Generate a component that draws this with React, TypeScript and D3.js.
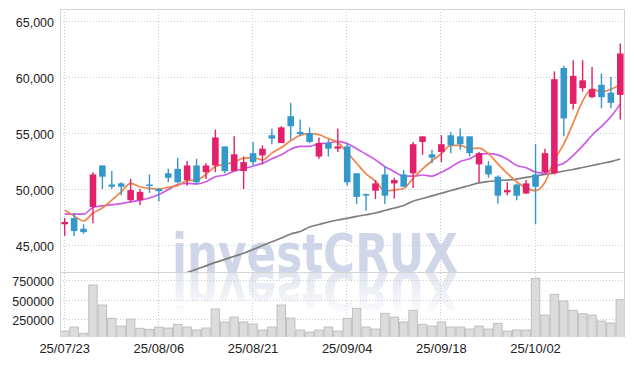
import React from "react";
import * as d3 from "d3";

const dates = [
  "25/07/23","25/07/24","25/07/25","25/07/28","25/07/29","25/07/30","25/07/31","25/08/01","25/08/04","25/08/05",
  "25/08/06","25/08/07","25/08/08","25/08/11","25/08/12","25/08/13","25/08/14","25/08/18","25/08/19","25/08/20",
  "25/08/21","25/08/22","25/08/25","25/08/26","25/08/27","25/08/28","25/08/29","25/09/01","25/09/02","25/09/03",
  "25/09/04","25/09/05","25/09/08","25/09/09","25/09/10","25/09/11","25/09/12","25/09/15","25/09/16","25/09/17",
  "25/09/18","25/09/19","25/09/22","25/09/23","25/09/24","25/09/25","25/09/26","25/09/29","25/09/30","25/10/01",
  "25/10/02","25/10/10","25/10/13","25/10/14","25/10/15","25/10/16","25/10/17","25/10/20","25/10/21","25/10/22",
];

const opens = [
  46850,47400,46450,48400,52100,50400,50500,49000,49000,50400,
  50000,51400,51800,50800,52100,51500,52100,53800,51600,51600,
  53200,53000,54800,54100,56500,55100,55000,52900,54100,53600,
  53800,51400,49550,49850,51300,50500,51300,51400,54200,53100,
  53300,54800,54700,54700,52200,52100,51100,49700,50400,49600,
  51300,51500,51400,60800,57600,59000,58200,59300,58600,58400,
];
const highs = [
  47400,47850,46850,51500,52100,51600,50600,50900,50000,51300,
  50100,51800,52800,52500,52700,52300,55300,53800,54700,52900,
  54200,53900,55400,55600,57700,56200,55500,54600,54400,55400,
  54100,51400,49600,50800,52000,51000,51700,54200,54700,53500,
  54800,55100,55400,54700,53300,52500,51200,50600,50500,50800,
  54000,53600,60500,61000,61500,61500,60900,60300,60000,63000,
];
const lows = [
  45800,45800,46000,46950,50000,50000,49450,48850,48550,49650,
  48900,50600,50500,50300,50400,50900,51500,51400,51600,50000,
  52100,52200,54000,54100,54400,54700,54100,52700,52900,53300,
  50300,48650,48050,49100,48650,49150,50200,50100,53050,52300,
  52400,53200,53500,52900,50600,51000,48700,49450,49000,49550,
  46850,51400,51300,54700,57100,58700,58100,57200,57200,56200,
];
const closes = [
  47050,46250,46150,51300,51100,50200,50200,49900,49750,50300,
  49800,51000,50600,52100,50600,52100,54600,51600,53100,52400,
  52400,53600,54500,55500,55600,54900,54200,54100,53600,53800,
  50600,49300,49450,50500,49400,50800,50200,54000,54700,52800,
  54000,53900,54000,53200,53200,51300,49400,49900,49400,50500,
  50200,53200,59800,56300,60100,59700,58900,58200,57700,62100,
];

const ma5 = [
  48100,47600,47150,47850,48300,49000,49750,50500,50200,50050,
  50000,50150,50300,50750,50800,51300,52000,52200,52400,52750,
  52800,52600,53200,53700,54300,54800,54950,54850,54500,54150,
  53250,52300,51350,50700,49850,49900,50050,50950,51800,52500,
  53150,53900,53900,53600,53650,53150,52250,51400,50650,50100,
  49850,50600,52600,54000,55900,57850,58950,58650,58900,59300,
];
const ma10 = [
  47750,47750,47750,48350,48500,48600,48700,48850,49000,49200,
  49500,49950,50400,50500,50450,50650,51100,51250,51600,51800,
  52050,52300,52700,53050,53550,53800,53800,54050,54100,54250,
  54050,53600,53100,52600,52000,51550,51150,51150,51250,51150,
  51500,51950,52450,52700,53100,53150,53050,52650,52100,51900,
  51500,51400,52000,52300,53000,53850,54800,55600,56450,57600,
];
const maLong: (number | null)[] = [
  null,null,null,null,null,null,null,null,null,null,
  null,null,42230,42550,42830,43140,43450,43720,43990,44260,
  44600,44950,45290,45620,45980,46200,46610,46830,47050,47230,
  47380,47550,47700,47860,48080,48300,48530,48910,49150,49380,
  49620,49870,50090,50310,50540,50670,50760,50800,50880,51030,
  51160,51300,51430,51610,51740,51920,52100,52280,52450,52680,
];

const volumes = [
  94000,146000,65000,689000,430000,258000,159000,249000,129000,116000,
  146000,133000,181000,146000,107000,133000,379000,211000,275000,211000,
  185000,107000,146000,430000,262000,107000,81000,107000,146000,94000,
  258000,388000,146000,120000,323000,275000,211000,362000,181000,159000,
  211000,146000,146000,120000,159000,120000,194000,94000,107000,107000,
  775000,301000,569000,482000,362000,318000,301000,224000,198000,499000,
];

const priceTicks = [45000, 50000, 55000, 60000, 65000];
const volumeTicks = [250000, 500000, 750000];
const dateTickIdx = [0, 10, 20, 30, 40, 50];
const watermark = "investCRUX";

const W = 634, H = 366;
const L = 60, R = 625, PT = 9, PB = 272, VT = 272, VB = 337;

export default function App() {
  const idx = d3.range(dates.length);
  const x = d3.scaleBand<number>().domain(idx).range([L, R]).padding(0);
  const bw = x.bandwidth();
  const cx = (i: number) => (x(i) as number) + bw / 2;
  const y = d3.scaleLinear().domain([42589, 66071]).range([PB, PT]);
  const yv = d3.scaleLinear().domain([0, 857300]).range([338.35, VT]);

  const line = d3.line<number | null>()
    .defined((d) => d != null)
    .x((_, i) => cx(i))
    .y((d) => y(d as number))
    .curve(d3.curveMonotoneX);

  const up = "#e2206b";
  const down = "#3498cb";
  const grid = "#c9cbd9";
  const textColor = "#222";
  const font = "'Liberation Sans', Arial, sans-serif";
  const wmFont = "'DejaVu Sans', sans-serif";
  const body = bw * 0.7;

  return (
    <svg width={W} height={H} style={{ position: "absolute", left: 0, top: 0, background: "#fff" }}>
      <defs>
        <clipPath id="pclip"><rect x={L} y={PT} width={R - L} height={PB - PT} /></clipPath>
        <clipPath id="vclip"><rect x={L} y={VT} width={R - L} height={VB - VT} /></clipPath>
        <linearGradient id="fade" x1="0" y1="0" x2="0" y2="1">
          <stop offset="0" stopColor="#fff" stopOpacity="0.15" />
          <stop offset="1" stopColor="#fff" stopOpacity="0.95" />
        </linearGradient>
      </defs>
      <rect x={0} y={0} width={W} height={H} fill="#fff" />

      {/* watermark */}
      <g clipPath="url(#pclip)">
        <text x={172} y={272} fontFamily={wmFont} fontWeight="bold" fontSize={54}
          textLength={286} lengthAdjust="spacingAndGlyphs" fill="#d0d6e9">{watermark}</text>
      </g>
      <g clipPath="url(#vclip)">
        <g transform={`translate(0,${2 * 272}) scale(1,-1)`}>
          <text x={172} y={272} fontFamily={wmFont} fontWeight="bold" fontSize={54}
            textLength={286} lengthAdjust="spacingAndGlyphs" fill="#dde1ee">{watermark}</text>
        </g>
        <rect x={L} y={VT} width={R - L} height={45} fill="url(#fade)" />
      </g>

      {/* grid */}
      {priceTicks.map((t) => (
        <line key={"pg" + t} x1={L} x2={R} y1={Math.round(y(t)) + 0.5} y2={Math.round(y(t)) + 0.5}
          stroke={grid} strokeDasharray="1,2" />
      ))}
      {volumeTicks.map((t) => (
        <line key={"vg" + t} x1={L} x2={R} y1={Math.round(yv(t)) + 0.5} y2={Math.round(yv(t)) + 0.5}
          stroke={grid} strokeDasharray="1,2" />
      ))}
      {dateTickIdx.map((i) => (
        <line key={"xg" + i} x1={Math.round(cx(i)) - 0.5} x2={Math.round(cx(i)) - 0.5} y1={PT} y2={VB}
          stroke={grid} strokeDasharray="1,2" />
      ))}

      {/* volume bars */}
      <g clipPath="url(#vclip)">
        {volumes.map((v, i) => (
          <rect key={"v" + i} x={(x(i) as number) + 0.5} y={yv(v)} width={bw - 1}
            height={Math.max(0, 338.35 - yv(v))} fill="#d8d8d8" fillOpacity={0.9} stroke="#bfbfbf" strokeWidth={1} />
        ))}
      </g>

      {/* price pane */}
      <g clipPath="url(#pclip)">
        <path d={line(maLong) || ""} fill="none" stroke="#7d7d7d" strokeWidth={1.7} />
        <path d={line(ma10) || ""} fill="none" stroke="#cc5ae6" strokeWidth={1.7} />
        <path d={line(ma5) || ""} fill="none" stroke="#f0864b" strokeWidth={1.7} />
        {idx.map((i) => {
          const o = opens[i], c = closes[i];
          const col = c >= o ? up : down;
          const top = y(Math.max(o, c));
          const bot = y(Math.min(o, c));
          return (
            <g key={"c" + i}>
              <line x1={cx(i)} x2={cx(i)} y1={y(highs[i])} y2={y(lows[i])} stroke={col} strokeWidth={1.4} />
              <rect x={cx(i) - body / 2} y={top} width={body} height={Math.max(1.5, bot - top)} fill={col} />
            </g>
          );
        })}
      </g>

      {/* borders */}
      <line x1={L} x2={R} y1={PT + 0.5} y2={PT + 0.5} stroke="#d4d4d4" />
      <line x1={L} x2={R} y1={PB + 0.5} y2={PB + 0.5} stroke="#d4d4d4" />
      <line x1={L + 0.5} x2={L + 0.5} y1={PT} y2={VB} stroke="#d4d4d4" />
      <line x1={R - 0.5} x2={R - 0.5} y1={PT} y2={VB} stroke="#d4d4d4" />

      {/* axis labels */}
      {priceTicks.map((t) => (
        <text key={"pt" + t} x={54} y={y(t) + 6} textAnchor="end" fontFamily={font} fontSize={12.5} fill={textColor}>
          {d3.format(",")(t)}
        </text>
      ))}
      {volumeTicks.map((t) => (
        <text key={"vt" + t} x={54} y={yv(t) + 6} textAnchor="end" fontFamily={font} fontSize={12.5} fill={textColor}>
          {String(t)}
        </text>
      ))}
      {dateTickIdx.map((i) => (
        <text key={"xt" + i} x={cx(i)} y={353} textAnchor="middle" fontFamily={font} fontSize={13} fill={textColor}>
          {dates[i]}
        </text>
      ))}
    </svg>
  );
}
